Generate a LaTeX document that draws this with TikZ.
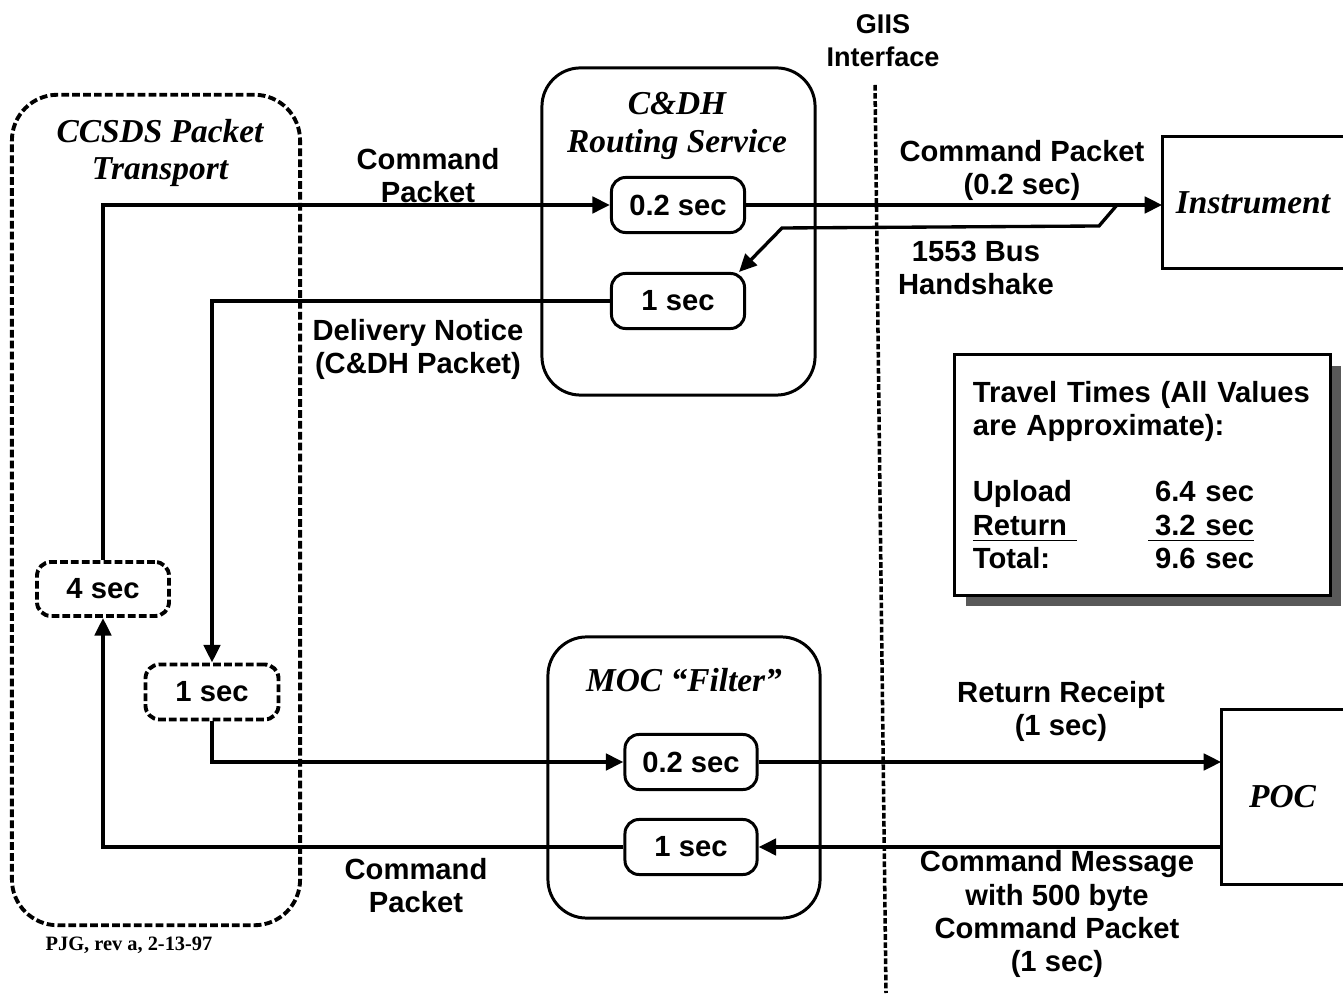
\documentclass[tikz,border=0pt]{standalone}
\usepackage{fontspec}
\setmainfont{Liberation Serif}
\setsansfont{Liberation Sans}
\usepackage{tikz}
\usetikzlibrary{calc}
\usetikzlibrary{positioning}
\usetikzlibrary{arrows.meta}
\usetikzlibrary{shadows}

\tikzset{
    lbl/.style={font=\sffamily\bfseries\fontsize{8.3}{9.4}\selectfont, align=center, inner sep=0pt},
    ttl/.style={font=\rmfamily\bfseries\itshape\fontsize{9.5}{10.6}\selectfont, align=center, inner sep=0pt},
    wall/.style={line width=0.85pt},
    groupbox/.style={draw, wall, rounded corners=11pt},
    secbox/.style={draw, wall, rounded corners=4pt, minimum width=1.33cm, minimum height=0.55cm, lbl, inner sep=2pt},
    ragged/.style={line width=1.1pt, dash pattern=on 2.2pt off 0.9pt},
    dsecbox/.style={secbox, ragged},
    flow/.style={line width=1.15pt, -{Triangle[length=5pt, width=4.6pt]}},
}

\begin{document}
\begin{tikzpicture}[x=0.01cm, y=-0.01cm]
            \useasboundingbox (0,0) rectangle (1343,995);

            \draw (156,510) node[groupbox, ragged, rounded corners=13pt, minimum width=2.88cm, minimum height=8.3cm] (ccsds) {};
            \draw (160,153) node[ttl] (ccsdsT) {CCSDS Packet\\Transport};
            \draw (678.5,231.5) node[groupbox, minimum width=2.73cm, minimum height=3.27cm] (cdh) {};
            \draw (677,126) node[ttl] (cdhT) {C\&DH\\Routing Service};
            \draw (684,777.5) node[groupbox, minimum width=2.72cm, minimum height=2.81cm] (moc) {};
            \draw (684,680) node[ttl] (mocT) {MOC ``Filter''};

            \draw (678,205) node[secbox] (c02) {0.2 sec};
            \draw (678,301) node[secbox] (c1) {1 sec};
            \draw (691,762) node[secbox, minimum width=1.32cm] (m02) {0.2 sec};
            \draw (691,847) node[secbox, minimum width=1.32cm] (m1) {1 sec};
            \draw (103,589) node[dsecbox, minimum width=1.32cm, minimum height=0.54cm] (s4) {4 sec};
            \draw (212,692) node[dsecbox] (d1) {1 sec};

            \draw (1253,202.5) node[ttl, minimum width=1.8cm, minimum height=1.31cm] (inst) {Instrument};
            \draw[wall] (inst.north east) -- (inst.north west) -- (inst.south west) -- (inst.south east);
            \draw (1282.5,797) node[ttl, minimum width=1.21cm, minimum height=1.74cm] (poc) {POC};
            \draw[wall] (poc.north east) -- (poc.north west) -- (poc.south west) -- (poc.south east);

            \draw (1142.5,475) node[draw, wall, fill=white, lbl, align=left, text width=3.39cm, minimum height=2.4cm, inner xsep=0.18cm,
                drop shadow={shadow xshift=0.11cm, shadow yshift=-0.11cm, fill=black!65, opacity=1}] (tt)
                {Travel Times (All Values\\are Approximate):\\[9.4pt]
                 \makebox[1.82cm][l]{Upload}6.4 sec\\
                 \makebox[1.75cm][l]{\underline{Return\ }}\underline{\hspace{0.07cm}3.2 sec}\\
                 \makebox[1.82cm][l]{Total:}9.6 sec};

            \draw[flow] (s4.north) |- (c02.west);
            \draw[flow] (c02.east) -- (c02.east -| inst.west);
            \coordinate (hs0) at (1117,205);
            \coordinate (hs1) at (1099,226);
            \coordinate (hs2) at (782,228);
            \draw[flow, line width=0.95pt] (hs0) -- (hs1) -- (hs2) -- ($(c1.north east)+(-7,0)$);
            \draw[flow] (c1.west) -| (d1.north);
            \draw[flow] (d1.south) |- (m02.west);
            \draw[flow] (m02.east) -- (m02.east -| poc.west);
            \draw[flow] (m1.east -| poc.west) -- (m1.east);
            \draw[flow] (m1.west) -| (s4.south);

            \draw (428,176) node[lbl] (lCmd1) {Command\\Packet};
            \draw (1022,170) node[lbl] (lCmd2) {Command Packet\\(0.2 sec)};
            \draw (976,268) node[lbl] (lBus) {1553 Bus\\Handshake};
            \draw (418,349) node[lbl] (lDel) {Delivery Notice\\(C\&DH Packet)};
            \draw (1061,711) node[lbl] (lRet) {Return Receipt\\(1 sec)};
            \draw (1057,914) node[lbl] (lMsg) {Command Message\\with 500 byte\\Command Packet\\(1 sec)};
            \draw (416,886) node[lbl] (lCmd3) {Command\\Packet};

            \draw (883,41) node[lbl, font=\sffamily\bfseries\fontsize{7.7}{9.4}\selectfont] (giis) {GIIS\\Interface};
            \draw[line width=1pt, dash pattern=on 1.6pt off 0.7pt] (875,85) -- (886,993);
            \draw (129,945) node[font=\rmfamily\bfseries\fontsize{5.8}{7}\selectfont] (sig) {PJG, rev a, 2-13-97};
        \end{tikzpicture}
\end{document}
